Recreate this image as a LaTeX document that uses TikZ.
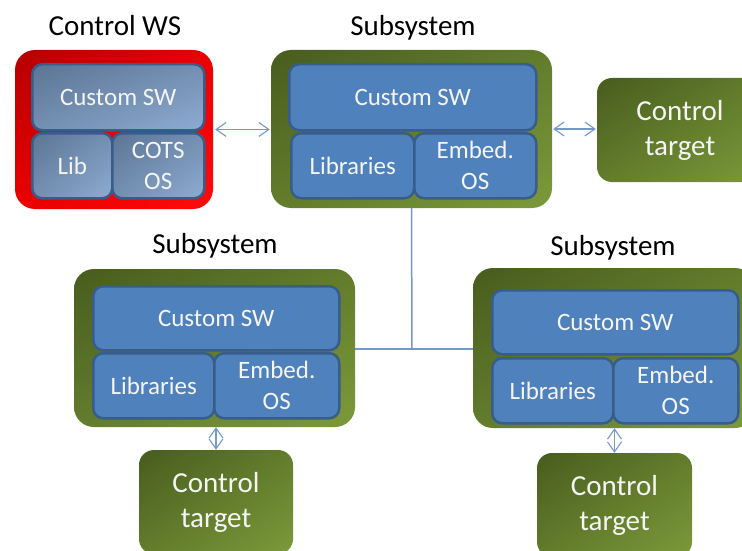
\documentclass[tikz,border=0pt]{standalone}
\usepackage{fontspec}
\setmainfont{Carlito}
\usetikzlibrary{arrows.meta,shadings}
\definecolor{gdark}{RGB}{72,92,30}
\definecolor{gmid}{RGB}{98,124,44}
\definecolor{glight}{RGB}{124,154,58}
\definecolor{rdark}{RGB}{180,0,0}
\definecolor{rmid}{RGB}{235,0,0}
\definecolor{rlight}{RGB}{255,10,10}
\definecolor{bfill}{RGB}{79,129,189}
\definecolor{bline}{RGB}{56,93,138}
\definecolor{wdark}{RGB}{92,117,148}
\definecolor{wmid}{RGB}{115,143,178}
\definecolor{wlight}{RGB}{142,172,210}
\definecolor{conncol}{RGB}{115,153,200}
\definecolor{txtw}{RGB}{245,245,245}
\tikzset{
  greenbox/.style={rounded corners=20pt, shade, upper left=gdark, upper right=gmid, lower left=gmid, lower right=glight, inner sep=0pt},
  redbox/.style={rounded corners=20pt, shade, upper left=rdark, upper right=rmid, lower left=rmid, lower right=rlight, inner sep=0pt},
  targetbox/.style={rounded corners=15pt, shade, upper left=gdark, upper right=gmid, lower left=gmid, lower right=glight, inner sep=0pt, text=txtw, align=center, font=\fontsize{29}{35}\selectfont},
  bluebox/.style={rounded corners=10pt, fill=bfill, draw=bline, line width=2.5pt, inner sep=0pt, text=txtw, align=center, anchor=north west, font=\fontsize{25}{31}\selectfont},
  wsbox/.style={rounded corners=10pt, shade, upper left=wdark, upper right=wmid, lower left=wmid, lower right=wlight, draw=bline, line width=2.5pt, inner sep=0pt, text=txtw, align=center, anchor=north west, font=\fontsize{25}{31}\selectfont},
  lbl/.style={font=\fontsize{29}{35}\selectfont, text=black, inner sep=0pt},
  conn/.style={draw=conncol, line width=1.5pt},
  biarrow/.style={draw=conncol, line width=1.1pt, {Straight Barb[length=10pt,width=14pt]}-{Straight Barb[length=10pt,width=14pt]}}
}
\begin{document}
\begin{tikzpicture}[x=1pt,y=-1pt]
\path[use as bounding box] (0,0) rectangle (742,551);
\clip (0,0) rectangle (742,551);
% Control WS
\node[lbl] (lws) at (115,26) {Control WS};
\node[redbox, minimum width=198pt, minimum height=159pt] (ws) at (114,129.5) {};
\node[wsbox, minimum width=172pt, minimum height=66pt] (wsc) at (31,63) {Custom SW};
\node[wsbox, minimum width=80pt, minimum height=65pt] (wsl) at (31,132) {Lib};
\node[wsbox, minimum width=92pt, minimum height=65pt] (wso) at (111,132) {COTS\\OS};
% top subsystem
\node[lbl] (l1) at (413,28) {Subsystem};
\node[greenbox, minimum width=281pt, minimum height=158pt] (s1) at (411.5,129) {};
\node[bluebox, minimum width=247pt, minimum height=66pt] (s1c) at (288,63) {Custom SW};
\node[bluebox, minimum width=123pt, minimum height=65pt] (s1l) at (290,132) {Libraries};
\node[bluebox, minimum width=122pt, minimum height=65pt] (s1o) at (413,132) {Embed.\\OS};
% top right target
\node[targetbox, minimum width=166pt, minimum height=104pt] (t1) at (680,130) {Control\\target};
% bottom-left subsystem
\node[lbl] (l2) at (215,246) {Subsystem};
\node[greenbox, minimum width=281pt, minimum height=158pt] (s2) at (214.5,348) {};
\node[bluebox, minimum width=246pt, minimum height=64pt] (s2c) at (92,285) {Custom SW};
\node[bluebox, minimum width=121pt, minimum height=65pt] (s2l) at (92,352) {Libraries};
\node[bluebox, minimum width=125pt, minimum height=65pt] (s2o) at (213,352) {Embed.\\OS};
\node[targetbox, minimum width=154pt, minimum height=104pt] (t2) at (216,502) {Control\\target};
% bottom-right subsystem
\node[lbl] (l3) at (613,248) {Subsystem};
\node[greenbox, minimum width=282pt, minimum height=160pt] (s3) at (614,348) {};
\node[bluebox, minimum width=246pt, minimum height=64pt] (s3c) at (491,289) {Custom SW};
\node[bluebox, minimum width=121pt, minimum height=65pt] (s3l) at (491,357) {Libraries};
\node[bluebox, minimum width=125pt, minimum height=65pt] (s3o) at (612,357) {Embed.\\OS};
\node[targetbox, minimum width=155pt, minimum height=104pt] (t3) at (614.5,505) {Control\\target};
% connectors
\coordinate (j) at (412,349);
\draw[conn] (s1.south) -- (j);
\draw[conn] (j -| s2.east) -- (j -| s3.west);
\draw[biarrow, shorten <=2pt, shorten >=1pt] (ws.east) -- (ws.east -| s1.west);
\draw[biarrow, shorten <=1pt, shorten >=1pt] (t1.west |- s1.east) -- (s1.east);
\draw[biarrow] (t2.north) -- (t2.north |- s2.south);
\draw[biarrow] (t3.north) -- (t3.north |- s3.south);
\end{tikzpicture}
\end{document}
